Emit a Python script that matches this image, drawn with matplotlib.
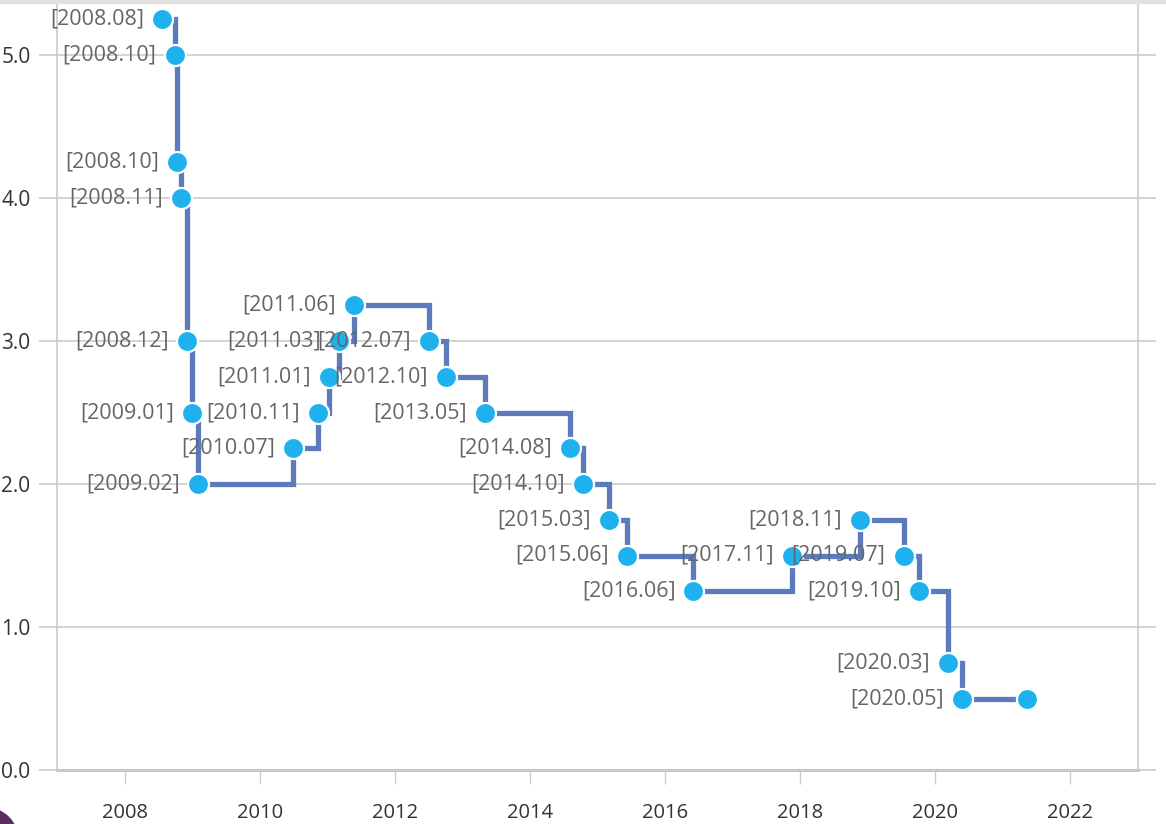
import matplotlib
matplotlib.use("Agg")
import matplotlib.pyplot as plt
from matplotlib.patches import Circle, Rectangle

plt.rcParams['font.family'] = ['Open Sans', 'DejaVu Sans']

dates = [2008.56, 2008.74, 2008.78, 2008.83, 2008.92, 2009.00, 2009.09,
         2010.50, 2010.86, 2011.02, 2011.17, 2011.40, 2012.50, 2012.76,
         2013.33, 2014.60, 2014.78, 2015.17, 2015.43, 2016.42, 2017.88,
         2018.89, 2019.53, 2019.76, 2020.19, 2020.40, 2021.36]
rates = [5.25, 5.0, 4.25, 4.0, 3.0, 2.5, 2.0,
         2.25, 2.5, 2.75, 3.0, 3.25, 3.0, 2.75,
         2.5, 2.25, 2.0, 1.75, 1.5, 1.25, 1.5,
         1.75, 1.5, 1.25, 0.75, 0.5, 0.5]
labels = ["[2008.08]", "[2008.10]", "[2008.10]", "[2008.11]", "[2008.12]",
          "[2009.01]", "[2009.02]", "[2010.07]", "[2010.11]", "[2011.01]",
          "[2011.03]", "[2011.06]", "[2012.07]", "[2012.10]", "[2013.05]",
          "[2014.08]", "[2014.10]", "[2015.03]", "[2015.06]", "[2016.06]",
          "[2017.11]", "[2018.11]", "[2019.07]", "[2019.10]", "[2020.03]",
          "[2020.05]", ""]
xticks = [2008, 2010, 2012, 2014, 2016, 2018, 2020, 2022]
yticks = [0.0, 1.0, 2.0, 3.0, 4.0, 5.0]

fig = plt.figure(figsize=(11.66, 8.24), dpi=100)
ax = fig.add_axes([57/1166, 1-770/824, (1138-57)/1166, 768/824])

ax.step(dates, rates, where='post', color='#5b7bbd', lw=3.8, zorder=2,
        solid_joinstyle='miter')
ax.scatter(dates, rates, s=230, color='#1fb1ee', edgecolors='white',
           linewidths=1.6, zorder=3)
for x, y, t in zip(dates, rates, labels):
    if t:
        ax.annotate(t, (x, y), xytext=(-13, 0), textcoords='offset points',
                    ha='right', va='center', fontsize=15.5, color='#666666',
                    zorder=4)

ax.set_xlim(2007.0, 2023.0)
ax.set_ylim(0, 768/143)
ax.set_xticks(xticks)
ax.set_xticklabels([str(v) for v in xticks])
ax.set_yticks(yticks)
ax.set_yticklabels([f"{v:.1f}" for v in yticks])
ax.grid(axis='y', color='#cccccc', lw=1.2, zorder=0)
ax.tick_params(axis='x', length=10, width=1, color='#cccccc', pad=14,
               labelsize=14.5, labelcolor='#333333')
ax.tick_params(axis='y', length=13, width=1.2, color='#cccccc', pad=6,
               labelsize=15, labelcolor='#333333', right=True)
ax.spines['top'].set_visible(False)
for s in ['left', 'right']:
    ax.spines[s].set_color('#cccccc')
    ax.spines[s].set_linewidth(1.2)
ax.spines['bottom'].set_color('#c8c8c8')
ax.spines['bottom'].set_linewidth(2.2)

fig.patches.append(Rectangle((0, 1-3/824), 1, 3/824, transform=fig.transFigure,
                             color='#e4e0e2', zorder=0))
fig.patches.append(Circle((-18/1166, 1+20/824), 0.0, transform=fig.transFigure))
corner = Circle((-14, -16), 32, transform=None, color='#5b2d5e', zorder=0)
fig.patches.append(corner)

fig.savefig('out.png', dpi=100)
